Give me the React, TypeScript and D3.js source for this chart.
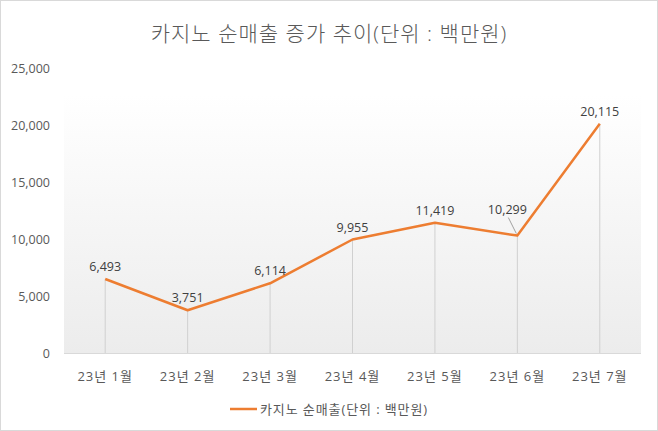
import React from "react";
import * as d3 from "d3";

const categories = ["23년 1월", "23년 2월", "23년 3월", "23년 4월", "23년 5월", "23년 6월", "23년 7월"];
const values = [6493, 3751, 6114, 9955, 11419, 10299, 20115];
const yTicks = [0, 5000, 10000, 15000, 20000, 25000];
const title = "카지노 순매출 증가 추이(단위 : 백만원)";
const seriesName = "카지노 순매출(단위 : 백만원)";

const W = 658, H = 431;
const M = { left: 64, right: 641, top: 68, bottom: 353 };
const FONT = "'Open Sans', 'Noto Sans CJK KR', sans-serif";
const TXT = "#595959";
const ORANGE = "#ED7D31";

export default function App() {
  const x = d3.scaleBand().domain(categories).range([M.left, M.right]).padding(0);
  const y = d3.scaleLinear().domain([0, 25000]).range([M.bottom, M.top]);
  const cx = (c: string) => (x(c) as number) + x.bandwidth() / 2;
  const line = d3.line<number>().x((_, i) => cx(categories[i])).y((v) => y(v));
  const fmt = d3.format(",");

  return (
    <svg width={W} height={H} style={{ position: "absolute", left: 0, top: 0 }} fontFamily={FONT}>
      <defs>
        <linearGradient id="pg" x1="0" y1="0" x2="0" y2="1">
          <stop offset="0%" stopColor="#ffffff" />
          <stop offset="100%" stopColor="#ececec" />
        </linearGradient>
      </defs>
      <rect x={0.5} y={0.5} width={W - 1} height={H - 1} fill="#fff" stroke="#d9d9d9" />
      <text x={W / 2} y={41} textAnchor="middle" fontSize={21} fontWeight={300} letterSpacing={1} fill={TXT}>{title}</text>
      <rect x={M.left} y={y(20000) - 30} width={M.right - M.left} height={M.bottom - (y(20000) - 30)} fill="url(#pg)" />
      {yTicks.map((t) => (
        <text key={t} x={50} y={y(t) + 5} textAnchor="end" fontSize={12.5} fill={TXT}>{fmt(t)}</text>
      ))}
      {categories.map((c, i) => (
        <line key={"d" + c} x1={cx(c)} x2={cx(c)} y1={y(values[i])} y2={M.bottom} stroke="#d0d0d0" strokeWidth={1} />
      ))}
      <line x1={M.left} x2={M.right} y1={M.bottom + 0.5} y2={M.bottom + 0.5} stroke="#d9d9d9" />
      <path d={line(values) || ""} fill="none" stroke={ORANGE} strokeWidth={2.5} strokeLinejoin="round" />
      {categories.map((c, i) => {
        const isLeader = i === 5;
        const lx = isLeader ? cx(c) - 10 : cx(c);
        const ly = isLeader ? y(values[i]) - 22 : y(values[i]) - 8;
        return (
          <g key={"l" + c}>
            {isLeader && (
              <line x1={cx(c) - 1} y1={y(values[i]) - 2} x2={cx(c) - 9} y2={y(values[i]) - 18} stroke="#8c8c8c" strokeWidth={0.8} />
            )}
            <text x={lx} y={ly} textAnchor="middle" fontSize={12.5} fill="#404040">{fmt(values[i])}</text>
          </g>
        );
      })}
      {categories.map((c) => (
        <text key={"x" + c} x={cx(c)} y={381} textAnchor="middle" fontSize={13} letterSpacing={1} fill={TXT}>{c}</text>
      ))}
      <line x1={230} x2={257} y1={409} y2={409} stroke={ORANGE} strokeWidth={2.5} />
      <text x={260} y={413.5} fontSize={13} letterSpacing={0.9} fill={TXT}>{seriesName}</text>
    </svg>
  );
}
